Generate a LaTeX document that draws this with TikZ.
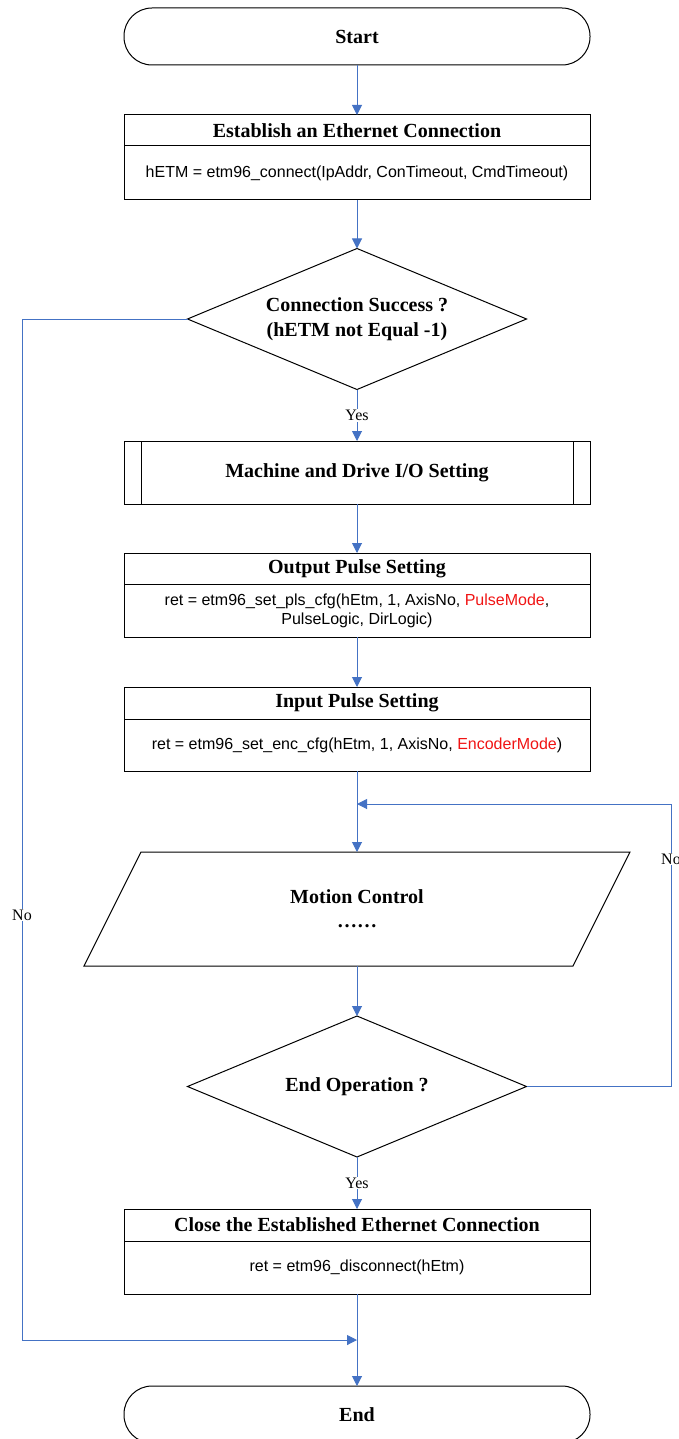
\documentclass[tikz,border=0pt]{standalone}
\usepackage{fontspec}
\setmainfont{Liberation Serif}
\newfontfamily\arialf{Liberation Sans}
\usetikzlibrary{shapes.geometric,arrows.meta,calc}
\definecolor{conn}{RGB}{68,114,196}
\definecolor{hil}{RGB}{240,20,20}
\begin{document}
\begin{tikzpicture}[x=1pt,y=-1pt,
  term/.style={draw, line width=1pt, rounded corners=28pt, minimum width=466pt, minimum height=57pt, inner sep=0pt, outer sep=0pt, font=\fontsize{20}{24}\selectfont\bfseries},
  ttl/.style={draw, line width=1pt, minimum width=466pt, inner sep=0pt, outer sep=0pt, font=\fontsize{20}{24}\selectfont\bfseries},
  body/.style={draw, line width=1pt, minimum width=466pt, inner sep=0pt, outer sep=0pt, align=center, font=\arialf\fontsize{16}{19}\selectfont},
  dec/.style={diamond, draw, line width=1pt, minimum width=339pt, minimum height=141pt, shape aspect=2.4, inner sep=0pt, outer sep=0pt, align=center, font=\fontsize{20}{25}\selectfont\bfseries},
  arr/.style={draw=conn, line width=1pt, -{Triangle[length=10pt,width=10pt]}},
  lab/.style={fill=white, inner sep=1pt, font=\fontsize{16}{18}\selectfont},
  edge/.style={draw, line width=1pt}]
\useasboundingbox (0,0) rectangle (678,1439);

\node[term] (start) at (357,36.5) {Start};
\node[ttl, minimum height=31pt] (estT) at (357,130.5) {Establish an Ethernet Connection};
\node[body, minimum height=54pt] (estB) at (357,173) {hETM = etm96\_connect(IpAddr, ConTimeout, CmdTimeout)};
\node[dec] (d1) at (357,319) {Connection Success ?\\(hETM not Equal -1)};
\node[ttl, minimum height=63pt] (io) at (357,472.5) {Machine and Drive I/O Setting};
\draw[edge] ($(io.north west)+(17,0)$) -- ($(io.south west)+(17,0)$);
\draw[edge] ($(io.north east)+(-17,0)$) -- ($(io.south east)+(-17,0)$);
\node[ttl, minimum height=31pt] (opT) at (357,568.5) {Output Pulse Setting};
\node[body, minimum height=53pt] (opB) at (357,610.5) {ret = etm96\_set\_pls\_cfg(hEtm, 1, AxisNo, \textcolor{hil}{PulseMode},\\PulseLogic, DirLogic)};
\node[ttl, minimum height=32pt] (ipT) at (357,703) {Input Pulse Setting};
\node[body, minimum height=52pt] (ipB) at (357,745) {ret = etm96\_set\_enc\_cfg(hEtm, 1, AxisNo, \textcolor{hil}{EncoderMode})};
\node[minimum width=546pt, minimum height=114pt, inner sep=0pt, outer sep=0pt, align=center, font=\fontsize{20}{24}\selectfont\bfseries] (mc) at (357,909) {Motion Control\\……};
\draw[edge] (mc.south west) -- ($(mc.north west)+(57,0)$) -- (mc.north east) -- ($(mc.south east)+(-57,0)$) -- cycle;
\node[dec] (d2) at (357,1086.5) {End Operation ?};
\node[ttl, minimum height=32pt] (clT) at (357,1225) {Close the Established Ethernet Connection};
\node[body, minimum height=53pt] (clB) at (357,1267.5) {ret = etm96\_disconnect(hEtm)};
\node[term] (end) at (357,1414.5) {End};

\coordinate (j1) at (357,1340);
\coordinate (cL) at (22,1340);
\coordinate (j2) at (357,804);
\coordinate (cR) at (671,804);

\draw[arr] (start.south) -- (estT.north);
\draw[arr] (estB.south) -- (d1.north);
\draw[arr] (d1.south) -- (io.north) node[lab, midway] {Yes};
\draw[arr] (io.south) -- (opT.north);
\draw[arr] (opB.south) -- (ipT.north);
\draw[arr] (ipB.south) -- (mc.north);
\draw[arr] (mc.south) -- (d2.north);
\draw[arr] (d2.south) -- (clT.north) node[lab, midway] {Yes};
\draw[arr] (clB.south) -- (end.north);
\draw[arr] (d1.west) -| (cL) -- (j1);
\node[lab] (noL) at (22,915) {No};
\draw[arr] (d2.east) -| (cR) -- (j2);
\node[lab] (noR) at (671,859) {No};
\end{tikzpicture}
\end{document}
